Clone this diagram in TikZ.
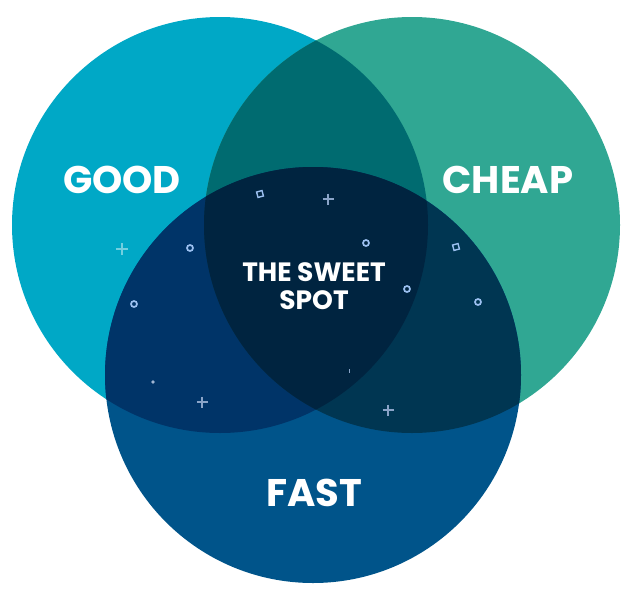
\documentclass[tikz,border=0pt]{standalone}
\usepackage{fontspec}
\setmainfont{Poppins}
\usetikzlibrary{positioning}
\definecolor{goodcol}{HTML}{00A8C6}
\definecolor{cheapcol}{HTML}{30A793}
\definecolor{fastcol}{HTML}{00548A}
\definecolor{goodcheapcol}{HTML}{006B70}
\definecolor{goodfastcol}{HTML}{003468}
\definecolor{cheapfastcol}{HTML}{003652}
\definecolor{sweetcol}{HTML}{002440}
\definecolor{ringcol}{HTML}{9CC0F0}
\definecolor{crosscol}{HTML}{8AA4C8}
\tikzset{
  setlabel/.style  = {text=white, font=\fontsize{38.5}{44}\selectfont\bfseries},
  sweetlabel/.style = {text=white, align=center,
                       font=\fontsize{26.5}{28}\selectfont\bfseries},
  ring/.style      = {draw=ringcol, line width=1.7pt},
  cross/.style     = {draw=crosscol, line width=1.6pt},
  chip/.style      = {draw=ringcol, line width=1.4pt},
}
\newcommand{\rad}{208pt}
\begin{document}
\begin{tikzpicture}[x=1pt, y=-1pt]
  \useasboundingbox (0,0) rectangle (631,600);
  \coordinate (good)  at (220,225);
  \coordinate (cheap) at (412,225);
  \coordinate (fast)  at (313,375);

  % the three sets
  \fill[goodcol]  (good)  circle[radius=\rad];
  \fill[cheapcol] (cheap) circle[radius=\rad];
  \fill[fastcol]  (fast)  circle[radius=\rad];

  % pairwise overlaps
  \begin{scope}
    \clip (good) circle[radius=\rad];
    \fill[goodcheapcol] (cheap) circle[radius=\rad];
  \end{scope}
  \begin{scope}
    \clip (good) circle[radius=\rad];
    \fill[goodfastcol] (fast) circle[radius=\rad];
  \end{scope}
  \begin{scope}
    \clip (cheap) circle[radius=\rad];
    \fill[cheapfastcol] (fast) circle[radius=\rad];
  \end{scope}

  % all three
  \begin{scope}
    \clip (good) circle[radius=\rad];
    \clip (cheap) circle[radius=\rad];
    \fill[sweetcol] (fast) circle[radius=\rad];
  \end{scope}

  % sparkles
  \foreach \x/\y in {190/248, 366/243, 134/304, 407/289, 478/302}
    \draw[ring] (\x,\y) circle[radius=3pt];
  \foreach \x/\y in {328/199, 202/402, 388/410}
    \draw[cross] (\x-5.5,\y) -- (\x+5.5,\y) (\x,\y-5.5) -- (\x,\y+5.5);
  \draw[cross, draw=white, opacity=0.45] (116,249) -- (128,249) (122,243) -- (122,255);
  \foreach \x/\y in {260/194, 456/247}
    \draw[chip, rotate around={15:(\x,\y)}] (\x-2.8,\y-2.8) rectangle (\x+2.8,\y+2.8);
  \fill[crosscol!80] (153,382) circle[radius=1.8pt];
  \draw[crosscol, line width=0.7pt] (349,369) -- (349,373);

  % labels
  \node[setlabel]   (goodlbl)  at (122,180) {GOOD};
  \node[setlabel]   (cheaplbl) at (508,180) {CHEAP};
  \node[setlabel]   (fastlbl)  at (314,493) {FAST};
  \node[sweetlabel] (sweetlbl) at (314,286) {THE SWEET\\SPOT};
\end{tikzpicture}
\end{document}
